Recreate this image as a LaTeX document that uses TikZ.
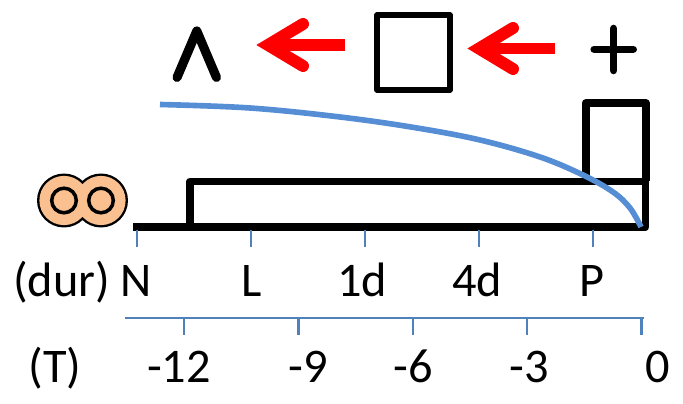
\documentclass[tikz,border=0pt]{standalone}
\usepackage{fontspec}
\setmainfont{Carlito}
\definecolor{curveblue}{HTML}{558ED5}
\definecolor{tickblue}{HTML}{4F81BD}
\definecolor{peach}{HTML}{FAC090}
\tikzset{
  bar/.style={line width=4.4pt,line join=round},
  op/.style={line width=4.3pt,line cap=round,line join=round},
  redarrow/.style={red,line width=6.8pt},
  tickline/.style={tickblue,line width=1.2pt},
  lbl/.style={anchor=base,inner sep=0pt,font=\fontsize{27.5}{30}\selectfont}
}
\begin{document}
\begin{tikzpicture}[x=.02cm,y=-.02cm]
  \useasboundingbox (0,0) rectangle (683,404);

  % two joined circles
  \draw[line width=2.7pt] (64,200.5) circle (24.6) (101,200.5) circle (24.6);
  \fill[peach] (64,200.5) circle (24.6) (101,200.5) circle (24.6);
  \foreach \x in {64,101} \draw[fill=peach,line width=2pt] (\x,200.5) circle (12.3);

  % bars
  \draw[bar] (133,227)--(645.5,227)--(645.5,181.5);
  \draw[bar] (190,227)--(190,181.5)--(645.5,181.5);
  \draw[bar] (585.7,181.5)--(585.7,103)--(645.7,103)--(645.7,181.5);

  % top row
  \draw[op,line width=5.2pt] (177,77.5)--(196.8,31)--(216.5,77.5);
  \draw[line width=3.2pt,line join=round] (377,15) rectangle (450,90);
  \draw[op] (594.2,49.3)--(633.2,49.3) (613.7,28.5)--(613.7,70.5);

  \draw[redarrow] (345,45)--(272,45);
  \draw[redarrow,line cap=round] (303,24)--(268,45)--(303,66);
  \draw[redarrow] (555,48.5)--(483,48.5);
  \draw[redarrow,line cap=round] (513,28)--(479,48.5)--(513,69);

  % curve
  \draw[curveblue,line width=3.2pt] plot[smooth,tension=.6] coordinates {(160,104.5) (250,108) (340,117) (414,127.5) (480,140) (540,157) (583,175) (613,192) (630,208) (641,227)};

  % dur axis
  \foreach \x/\xtext/\xpos in {136.7/N/136.5,250.7/L/251.5,364.7/1d/362,478.7/4d/477,592.7/P/592}
    {\draw[tickline] (\x,230)--(\x,247);
     \node[lbl] (dur\xtext) at (\xpos,297) {\xtext};}
  \node[lbl] (durlabel) at (61.5,297) {(dur)};

  % T axis
  \draw[tickline] (125,318)--(644,318);
  \foreach \x/\xname/\xtext/\xpos in {184/a/-12/179,298.5/b/-9/308,413/c/-6/413,527/d/-3/529,641.5/e/0/658}
    {\draw[tickline] (\x,318)--(\x,335);
     \node[lbl] (t\xname) at (\xpos,383) {\xtext};}
  \node[lbl] (tlabel) at (55,383) {(T)};
\end{tikzpicture}
\end{document}
